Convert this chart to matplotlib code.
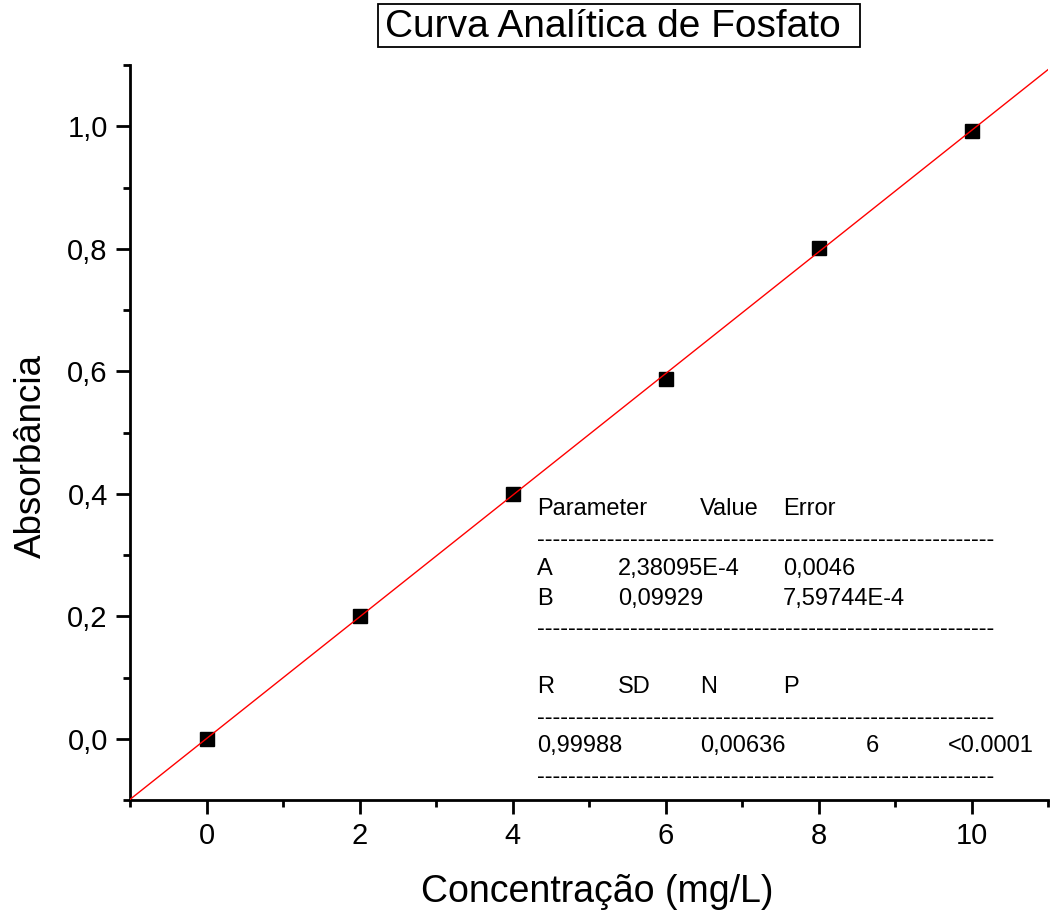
import matplotlib.pyplot as plt
from matplotlib.patches import Rectangle
from matplotlib.ticker import FixedLocator

plt.rcParams['font.family'] = ['Liberation Sans', 'DejaVu Sans']

# Messwerte
konz = [0, 2, 4, 6, 8, 10]
absorb = [0.0, 0.201, 0.399, 0.587, 0.802, 0.992]

# Lineare Regression (Origin-Ausgabe)
A = 2.38095e-4
B = 0.09929
fit_x = [-1, 11]
fit_y = [A + B * v for v in fit_x]

tab_kopf = ["Parameter", "Value", "Error"]
tab_zeilen = [("A", "2,38095E-4", "0,0046"), ("B", "0,09929", "7,59744E-4")]
stat_kopf = ["R", "SD", "N", "P"]
stat_werte = ["0,99988", "0,00636", "6", "<0.0001"]

W, H = 1050, 917
fig = plt.figure(figsize=(W / 100, H / 100), dpi=100)
ax = fig.add_axes([130 / W, 1 - 800 / H, 918 / W, 735 / H])

ax.plot(konz, absorb, 's', color='black', markersize=10, zorder=2)
ax.plot(fit_x, fit_y, '-', color='red', lw=1.0, zorder=3)

ax.set_xlim(-1, 11)
ax.set_ylim(-0.1, 1.1)
ax.xaxis.set_major_locator(FixedLocator([0, 2, 4, 6, 8, 10]))
ax.xaxis.set_minor_locator(FixedLocator([-1, 1, 3, 5, 7, 9, 11]))
ax.yaxis.set_major_locator(FixedLocator([0.0, 0.2, 0.4, 0.6, 0.8, 1.0]))
ax.yaxis.set_minor_locator(FixedLocator([-0.1, 0.1, 0.3, 0.5, 0.7, 0.9, 1.1]))
ax.set_yticklabels(["0,0", "0,2", "0,4", "0,6", "0,8", "1,0"])

for s in ['top', 'right']:
    ax.spines[s].set_visible(False)
for s in ['left', 'bottom']:
    ax.spines[s].set_linewidth(2)
ax.tick_params(which='major', direction='out', length=10, width=2, labelsize=21, pad=6)
ax.tick_params(which='minor', direction='out', length=5, width=2)

ax.set_xlabel("Concentração (mg/L)", fontsize=27, labelpad=17)
ax.xaxis.label.set_x(0.509)
ax.set_ylabel("Absorbância", fontsize=26.5)
ax.yaxis.set_label_coords(-0.088, 0.468)

# Titel mit Rahmen
fig.patches.append(Rectangle((378 / W, 1 - 47 / H), 482 / W, 43 / H,
                             transform=fig.transFigure, fill=False, lw=1.3, ec='black'))
fig.text(385 / W, 1 - 27 / H, "Curva Analítica de Fosfato", fontsize=28, va='center', ha='left')

# Ergebnistabelle
def px(x, y):
    return x / W, 1 - y / H

fs = 17
strich = "-" * 59
for txt, x in zip(tab_kopf, [537, 700, 783]):
    fig.text(*px(x, 509), txt, fontsize=fs, va='center')
fig.text(*px(537, 540), strich, fontsize=fs, va='center')
for i, zeile in enumerate(tab_zeilen):
    y = 569 + 30 * i
    for txt, x in zip(zeile, [537, 618, 783]):
        fig.text(*px(x, y), txt, fontsize=fs, va='center')
fig.text(*px(537, 629), strich, fontsize=fs, va='center')
for txt, x in zip(stat_kopf, [537, 618, 700, 783]):
    fig.text(*px(x, 687), txt, fontsize=fs, va='center')
fig.text(*px(537, 718), strich, fontsize=fs, va='center')
for txt, x in zip(stat_werte, [537, 700, 866, 948]):
    fig.text(*px(x, 746), txt, fontsize=fs, va='center')
fig.text(*px(537, 777), strich, fontsize=fs, va='center')

fig.savefig("out.png", dpi=100)
